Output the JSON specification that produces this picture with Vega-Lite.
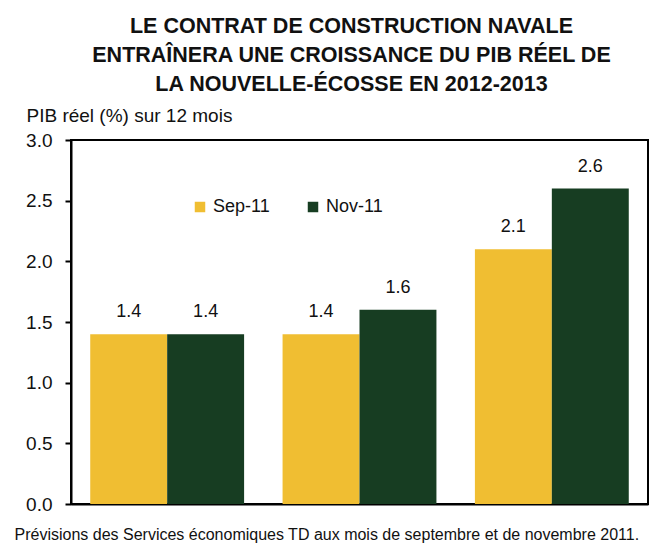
{
  "$schema": "https://vega.github.io/schema/vega-lite/v6.json",
  "width": 577,
  "height": 364,
  "autosize": {"type": "none"},
  "padding": {"left": 71, "top": 140, "right": 20, "bottom": 52},
  "background": "white",
  "config": {
    "font": "Liberation Sans",
    "view": {"stroke": "#000000", "strokeWidth": 2},
    "text": {"font": "Liberation Sans"}
  },
  "title": {
    "text": ["LE CONTRAT DE CONSTRUCTION NAVALE", "ENTRAÎNERA UNE CROISSANCE DU PIB RÉEL DE", "LA NOUVELLE-ÉCOSSE EN 2012-2013"],
    "font": "Liberation Sans",
    "fontSize": 21.5,
    "fontWeight": "bold",
    "color": "#111111",
    "anchor": "middle",
    "dx": -8,
    "lineHeight": 29,
    "offset": 11
  },
  "data": {
    "values": [
      {"year": "2011", "series": "Sep-11", "value": 1.4},
      {"year": "2011", "series": "Nov-11", "value": 1.4},
      {"year": "2012", "series": "Sep-11", "value": 1.4},
      {"year": "2012", "series": "Nov-11", "value": 1.6},
      {"year": "2013", "series": "Sep-11", "value": 2.1},
      {"year": "2013", "series": "Nov-11", "value": 2.6}
    ]
  },
  "encoding": {
    "x": {
      "field": "year",
      "type": "nominal",
      "scale": {"paddingInner": 0.2, "paddingOuter": 0.1},
      "axis": {
        "labels": false,
        "ticks": false,
        "domainColor": "#000000",
        "domainWidth": 2,
        "title": "Prévisions des Services économiques TD aux mois de septembre et de novembre 2011.",
        "titleFont": "Liberation Sans",
        "titleFontSize": 16,
        "titleFontWeight": "normal",
        "titleColor": "#111111",
        "titleAlign": "left",
        "titleAnchor": "start",
        "titleBaseline": "alphabetic",
        "titleX": -57,
        "titleY": 35
      }
    },
    "xOffset": {
      "field": "series",
      "type": "nominal",
      "sort": ["Sep-11", "Nov-11"],
      "scale": {"paddingInner": 0, "paddingOuter": 0}
    },
    "y": {
      "field": "value",
      "type": "quantitative",
      "scale": {"domain": [0, 3]},
      "axis": {
        "values": [0, 0.5, 1, 1.5, 2, 2.5, 3],
        "format": ".1f",
        "grid": false,
        "domainColor": "#000000",
        "domainWidth": 2,
        "tickColor": "#000000",
        "tickWidth": 2,
        "tickSize": 6,
        "labelPadding": 13,
        "labelFont": "Liberation Sans",
        "labelFontSize": 19,
        "labelColor": "#111111",
        "title": "PIB réel (%) sur 12 mois",
        "titleFont": "Liberation Sans",
        "titleFontSize": 19,
        "titleFontWeight": "normal",
        "titleColor": "#111111",
        "titleAngle": 0,
        "titleAlign": "left",
        "titleBaseline": "alphabetic",
        "titleX": -45,
        "titleY": -19
      }
    }
  },
  "layer": [
    {
      "mark": {"type": "bar"},
      "encoding": {
        "color": {
          "field": "series",
          "type": "nominal",
          "sort": ["Sep-11", "Nov-11"],
          "scale": {"domain": ["Sep-11", "Nov-11"], "range": ["#F0BE32", "#173D22"]},
          "legend": {
            "title": null,
            "orient": "none",
            "legendX": 120,
            "legendY": 58,
            "direction": "horizontal",
            "symbolType": "square",
            "symbolSize": 110,
            "symbolStrokeWidth": 0,
            "labelFont": "Liberation Sans",
            "labelFontSize": 18,
            "labelColor": "#111111",
            "labelOffset": 4,
            "columnPadding": 34
          }
        }
      }
    },
    {
      "mark": {"type": "text", "dy": -17, "baseline": "alphabetic", "fontSize": 18, "color": "#111111", "font": "Liberation Sans"},
      "encoding": {
        "text": {"field": "value", "type": "quantitative", "format": ".1f"}
      }
    }
  ]
}
